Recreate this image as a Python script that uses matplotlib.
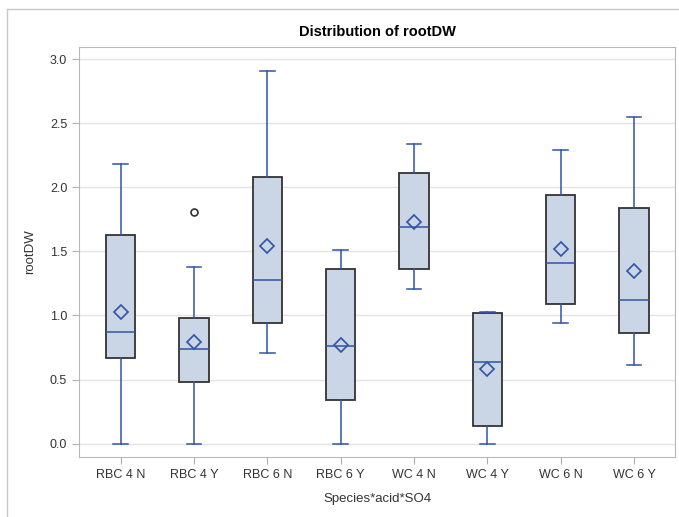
import matplotlib
matplotlib.use("Agg")
import matplotlib.pyplot as plt
from matplotlib.lines import Line2D

plt.rcParams["font.family"] = ["Liberation Sans", "DejaVu Sans"]

groups = ["RBC 4 N", "RBC 4 Y", "RBC 6 N", "RBC 6 Y", "WC 4 N", "WC 4 Y", "WC 6 N", "WC 6 Y"]
whislo = [0.00, 0.00, 0.71, 0.00, 1.21, 0.00, 0.94, 0.61]
q1 = [0.67, 0.48, 0.94, 0.34, 1.36, 0.14, 1.09, 0.86]
med = [0.87, 0.74, 1.28, 0.76, 1.69, 0.64, 1.41, 1.12]
q3 = [1.63, 0.98, 2.08, 1.36, 2.11, 1.02, 1.94, 1.84]
whishi = [2.18, 1.38, 2.91, 1.51, 2.34, 1.03, 2.29, 2.55]
means = [1.03, 0.79, 1.54, 0.77, 1.73, 0.58, 1.52, 1.35]
outliers = [[], [1.81], [], [], [], [], [], []]

stats = []
for i, g in enumerate(groups):
    stats.append(dict(label=g, whislo=whislo[i], q1=q1[i], med=med[i], q3=q3[i],
                      whishi=whishi[i], mean=means[i], fliers=outliers[i]))

blue = "#2f54a8"
fig = plt.figure(figsize=(6.79, 5.17), dpi=100)
ax = fig.add_axes([79 / 679, 1 - 457 / 517, 596 / 679, 410 / 517])

ax.bxp(stats, positions=range(len(groups)), widths=0.4, patch_artist=True,
       showmeans=True,
       boxprops=dict(facecolor="#cad5e5", edgecolor="#333333", linewidth=1.3),
       medianprops=dict(color=blue, linewidth=1.1),
       whiskerprops=dict(color=blue, linewidth=1.1),
       capprops=dict(color=blue, linewidth=1.1),
       capwidths=0.2,
       meanprops=dict(marker="D", markerfacecolor="none", markeredgecolor=blue,
                      markersize=7.5, markeredgewidth=1.2),
       flierprops=dict(marker="o", markerfacecolor="none", markeredgecolor="#333333",
                       markersize=5, markeredgewidth=1.2))

ax.set_xlim(-0.57, 7.56)
ax.set_ylim(-0.105, 3.096)
ax.set_yticks([0.0, 0.5, 1.0, 1.5, 2.0, 2.5, 3.0])
ax.set_yticklabels(["0.0", "0.5", "1.0", "1.5", "2.0", "2.5", "3.0"])
ax.yaxis.grid(True, color="#e3e3e3", linewidth=1)
ax.set_axisbelow(True)
for s in ax.spines.values():
    s.set_color("#b8b8b8")
ax.tick_params(colors="#b0b0b0", labelcolor="#333333", labelsize=9, length=5)

ax.set_xlabel("Species*acid*SO4", fontsize=9.5, color="#333333", labelpad=9)
ax.set_ylabel("rootDW", fontsize=9.5, color="#333333", labelpad=10)
ax.set_title("Distribution of rootDW", fontsize=10.5, fontweight="bold", pad=8)

# outer frame of the graph
fig.add_artist(Line2D([7 / 679, 7 / 679], [0, 1 - 9 / 517], color="#c8c8c8", linewidth=1))
fig.add_artist(Line2D([7 / 679, 1], [1 - 9 / 517, 1 - 9 / 517], color="#c8c8c8", linewidth=1))

fig.savefig("out.png", dpi=100)
